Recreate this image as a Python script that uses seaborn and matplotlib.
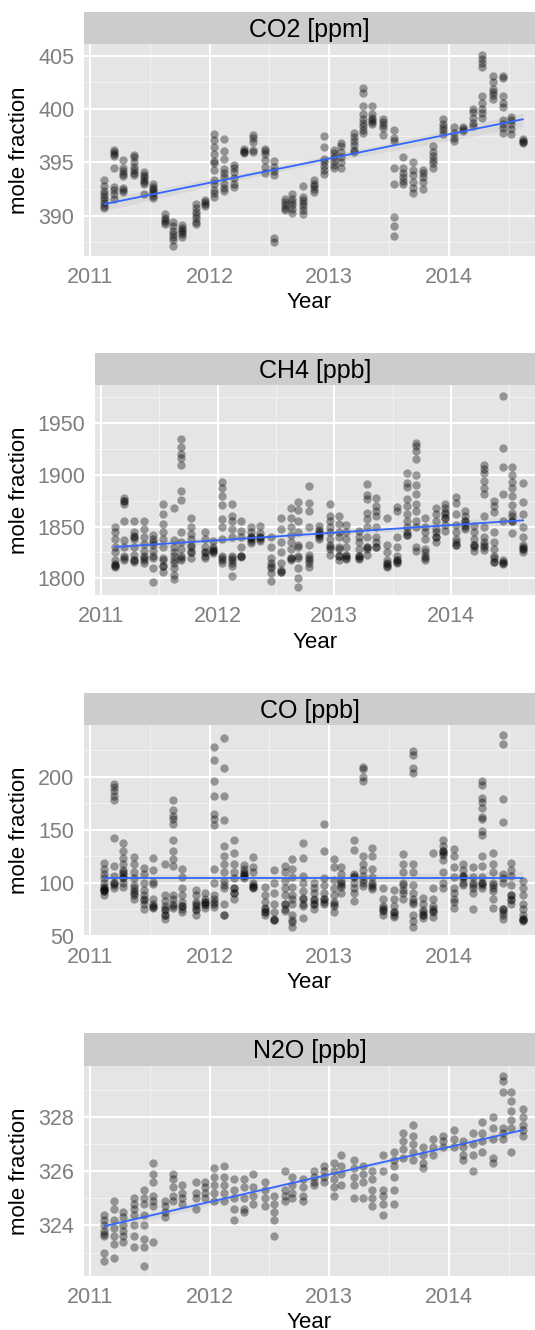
import matplotlib
matplotlib.use("Agg")
import matplotlib.pyplot as plt
import matplotlib.transforms as mtransforms
import numpy as np
import pandas as pd
import seaborn as sns

# ---------------- data ----------------
dates = [2011.12, 2011.20, 2011.28, 2011.37, 2011.45, 2011.53, 2011.63, 2011.69, 2011.77,
         2011.89, 2011.96, 2012.04, 2012.12, 2012.20, 2012.29, 2012.36, 2012.46, 2012.54,
         2012.63, 2012.69, 2012.78, 2012.87, 2012.96, 2013.04, 2013.10, 2013.21, 2013.28,
         2013.36, 2013.45, 2013.54, 2013.62, 2013.70, 2013.78, 2013.87, 2013.95, 2014.04,
         2014.12, 2014.20, 2014.28, 2014.37, 2014.45, 2014.52, 2014.62]

co2 = [
    [393.4, 392.8, 392.3, 392.0, 391.8, 391.5, 391.2, 390.9, 390.7],
    [396.2, 396.0, 395.8, 395.6, 394.5, 392.7, 392.4, 392.0, 391.6],
    [395.2, 394.5, 394.2, 393.9, 393.7, 392.6, 392.4, 392.2],
    [395.7, 395.5, 395.0, 394.6, 394.3, 394.0, 393.8],
    [394.1, 393.8, 393.6, 393.4, 393.2, 393.0, 392.0],
    [393.0, 392.7, 392.5, 392.3, 392.1, 391.9, 391.7],
    [390.2, 389.8, 389.6, 389.4, 389.2],
    [389.4, 389.0, 388.6, 388.3, 388.0, 387.7, 387.2],
    [389.1, 388.9, 388.7, 388.5, 388.3, 388.0],
    [391.1, 390.7, 390.4, 390.1, 389.8, 389.4, 389.2],
    [391.5, 391.3, 391.1, 390.9],
    [397.7, 397.1, 396.4, 395.8, 395.1, 394.9, 394.3, 393.4, 393.0, 392.4, 392.1, 391.8],
    [397.2, 396.1, 395.3, 394.4, 394.0, 393.6, 393.0, 392.6, 392.3],
    [394.8, 394.5, 394.1, 393.5, 393.0, 392.7],
    [396.3, 396.1, 396.0, 395.9],
    [397.6, 397.3, 396.9, 396.2, 396.0],
    [396.3, 396.1, 395.8, 395.2, 394.6, 394.0],
    [395.1, 394.6, 394.2, 393.8, 387.9, 387.5],
    [391.6, 391.3, 391.0, 390.7, 390.5],
    [392.0, 391.6, 391.3, 391.0, 390.6, 390.3],
    [392.8, 391.8, 391.5, 391.2, 390.9, 390.5, 390.2],
    [393.4, 393.0, 392.8, 392.5, 392.2],
    [397.5, 396.4, 395.3, 395.0, 394.7, 394.3, 393.9],
    [396.2, 395.9, 395.5, 395.1, 394.8, 394.5],
    [396.8, 396.5, 396.0, 395.5, 395.0, 394.5],
    [397.8, 397.4, 397.0, 396.6, 396.2, 396.0],
    [402.0, 401.5, 400.3, 399.5, 399.1, 398.7, 398.4, 398.0, 397.8],
    [400.3, 399.5, 399.2, 399.0, 398.8, 398.6],
    [399.1, 398.8, 398.5, 398.2, 397.6],
    [398.0, 397.3, 397.0, 394.5, 393.0, 389.9, 389.0, 388.1],
    [395.5, 394.5, 394.0, 393.6, 393.3, 393.0],
    [395.0, 394.3, 393.8, 393.2, 392.6, 392.1],
    [394.3, 394.0, 393.6, 393.2, 392.5],
    [396.5, 396.0, 395.6, 395.2, 394.9, 394.5],
    [399.1, 398.6, 398.3, 398.0, 397.7],
    [398.3, 397.8, 397.3, 397.0],
    [398.3, 398.1, 397.9],
    [400.0, 399.7, 399.2, 398.7, 398.4],
    [405.1, 404.7, 404.3, 403.9, 401.2, 400.6, 400.0, 399.6, 399.2],
    [403.1, 402.5, 401.9, 401.6, 401.3, 400.9],
    [403.1, 402.9, 401.2, 400.6, 400.2, 399.0, 398.6, 398.2, 397.8],
    [399.3, 399.0, 398.6, 398.1, 397.7],
    [397.2, 397.0, 396.9, 396.8],
]

ch4 = [
    [1850, 1845, 1838, 1830, 1825, 1818, 1814, 1813, 1812, 1811],
    [1878, 1875, 1875, 1872, 1855, 1837, 1830, 1822, 1820, 1818],
    [1855, 1845, 1841, 1840, 1838, 1830, 1823, 1818, 1818, 1816],
    [1855, 1848, 1840, 1833, 1826, 1822, 1820, 1818, 1815],
    [1842, 1838, 1835, 1832, 1826, 1822, 1820, 1810, 1796],
    [1872, 1862, 1853, 1845, 1838, 1830, 1820, 1818, 1812, 1812, 1806],
    [1868, 1837, 1830, 1825, 1822, 1818, 1815, 1810, 1803, 1799],
    [1935, 1927, 1920, 1916, 1910, 1884, 1876, 1845, 1835, 1828, 1822, 1820, 1818],
    [1858, 1850, 1843, 1838, 1832, 1830, 1825, 1825, 1820],
    [1845, 1838, 1830, 1825, 1825, 1822, 1820],
    [1836, 1830, 1828, 1826, 1826, 1824],
    [1893, 1887, 1880, 1871, 1857, 1850, 1838, 1822, 1820, 1818, 1815],
    [1872, 1860, 1855, 1848, 1840, 1822, 1820, 1818, 1815, 1812, 1802],
    [1855, 1846, 1840, 1830, 1822, 1822, 1821],
    [1850, 1845, 1840, 1840, 1838, 1836, 1834],
    [1851, 1844, 1840, 1840, 1838, 1836],
    [1840, 1830, 1820, 1815, 1812, 1810, 1805, 1797],
    [1858, 1848, 1835, 1825, 1815, 1808, 1806, 1806],
    [1868, 1858, 1850, 1842, 1835, 1828, 1820, 1820, 1818],
    [1874, 1866, 1855, 1845, 1832, 1830, 1822, 1820, 1810, 1800, 1792],
    [1889, 1873, 1865, 1850, 1832, 1823, 1820, 1818, 1815, 1811],
    [1851, 1847, 1845, 1843, 1842, 1840, 1838],
    [1872, 1860, 1855, 1850, 1845, 1838, 1832, 1830, 1828, 1823],
    [1860, 1853, 1845, 1840, 1830, 1828, 1822, 1822, 1818],
    [1852, 1845, 1838, 1830, 1823, 1822, 1820, 1819],
    [1846, 1840, 1835, 1828, 1822, 1822, 1820, 1819],
    [1891, 1881, 1877, 1863, 1857, 1850, 1840, 1830, 1830, 1828, 1823],
    [1878, 1870, 1865, 1860, 1850, 1840, 1835, 1830, 1830],
    [1858, 1832, 1825, 1818, 1815, 1814, 1812, 1811],
    [1869, 1865, 1840, 1830, 1822, 1818, 1818, 1816, 1815],
    [1902, 1892, 1888, 1877, 1870, 1862, 1855, 1850, 1845, 1842, 1842],
    [1931, 1928, 1923, 1915, 1900, 1890, 1882, 1872, 1865, 1855, 1850, 1830, 1826],
    [1858, 1850, 1845, 1838, 1828, 1825, 1822, 1820, 1818],
    [1868, 1862, 1855, 1848, 1845, 1840, 1840, 1835],
    [1872, 1868, 1864, 1862, 1858, 1858, 1852, 1846],
    [1879, 1873, 1862, 1852, 1845, 1838, 1835, 1832, 1832],
    [1865, 1860, 1855, 1855, 1852, 1850, 1848],
    [1851, 1845, 1838, 1832, 1832, 1830, 1826],
    [1910, 1906, 1902, 1894, 1887, 1882, 1860, 1850, 1840, 1835, 1832, 1830, 1827],
    [1875, 1870, 1864, 1845, 1835, 1828, 1822, 1820, 1816, 1816],
    [1976, 1926, 1908, 1882, 1855, 1818, 1816, 1815, 1814],
    [1908, 1900, 1893, 1887, 1880, 1871, 1863, 1860, 1855, 1855, 1844],
    [1892, 1874, 1862, 1850, 1840, 1832, 1830, 1828, 1828, 1825],
]

co = [
    [119, 113, 108, 104, 100, 96, 95, 94, 93, 92, 92, 88],
    [193, 190, 186, 182, 178, 142, 116, 106, 100, 100, 98, 95],
    [137, 130, 123, 118, 112, 110, 108, 105, 104, 100, 96],
    [124, 118, 110, 104, 98, 95, 92, 90, 88, 85],
    [114, 108, 100, 93, 88, 85, 84, 80, 75],
    [123, 112, 101, 99, 85, 80, 78, 77, 76],
    [118, 88, 83, 78, 75, 74, 70, 70, 66],
    [178, 168, 163, 160, 155, 140, 130, 122, 116, 88, 85, 80, 78, 76],
    [113, 105, 95, 88, 82, 78, 78, 75, 72],
    [93, 88, 82, 80, 78, 75, 74, 70],
    [90, 85, 82, 82, 80, 79, 76],
    [228, 216, 196, 182, 165, 160, 154, 113, 100, 88, 85, 82, 80, 77],
    [236, 208, 182, 159, 135, 125, 118, 110, 102, 98, 95, 80, 70, 70],
    [140, 128, 118, 110, 104, 95, 95, 90, 90, 85],
    [117, 113, 110, 108, 107, 106, 104],
    [124, 115, 110, 100, 98, 96, 96, 95],
    [96, 88, 82, 76, 75, 72, 72, 70],
    [112, 100, 90, 80, 72, 66, 65, 65],
    [116, 110, 102, 95, 88, 80, 80, 75, 73],
    [122, 113, 105, 96, 88, 85, 80, 70, 65, 63, 58],
    [137, 123, 106, 100, 92, 86, 85, 80, 78, 67],
    [100, 95, 90, 85, 84, 80, 80, 75],
    [155, 130, 104, 98, 90, 85, 85, 82, 80],
    [122, 115, 103, 95, 88, 82, 80, 78, 72],
    [115, 108, 102, 100, 98, 96, 90],
    [140, 131, 108, 106, 105, 100, 95, 90, 83],
    [209, 207, 200, 196, 125, 118, 112, 106, 103, 100, 97],
    [133, 125, 113, 105, 100, 98, 96, 94],
    [95, 85, 78, 76, 74, 73, 70],
    [93, 85, 78, 72, 72, 70, 68],
    [127, 118, 110, 100, 98, 93, 90, 85],
    [224, 220, 208, 203, 118, 110, 98, 90, 85, 82, 80, 70, 64, 58],
    [86, 80, 74, 72, 70, 70, 67],
    [128, 95, 85, 78, 75, 73, 72, 68],
    [140, 135, 130, 130, 128, 126, 121, 110, 100, 95],
    [132, 125, 115, 105, 95, 90, 85, 82, 76],
    [118, 112, 106, 106, 104, 100, 98],
    [115, 105, 100, 98, 95, 90, 75],
    [196, 192, 180, 176, 170, 162, 160, 149, 145, 125, 116, 105, 100, 100, 98, 95],
    [128, 118, 110, 100, 98, 95, 92, 85, 76],
    [239, 231, 179, 157, 108, 104, 100, 75, 75, 72, 70, 66],
    [119, 112, 106, 98, 88, 88, 85, 84, 80],
    [102, 95, 88, 80, 75, 70, 66, 66, 65, 64],
]

n2o = [
    [324.4, 324.2, 324.0, 323.8, 323.7, 323.6, 323.0, 322.7],
    [324.9, 324.6, 324.2, 323.9, 323.6, 323.3, 322.8],
    [324.5, 324.3, 324.0, 323.8, 323.6, 323.4],
    [325.0, 324.8, 324.6, 324.4, 324.0, 323.6, 323.2],
    [325.3, 325.0, 324.8, 324.4, 324.0, 323.5, 323.2, 322.5],
    [326.3, 325.9, 325.6, 325.1, 324.9, 324.7, 323.4],
    [324.9, 324.7, 324.5, 324.3],
    [325.9, 325.7, 325.4, 325.1, 324.9],
    [325.5, 325.2, 325.0, 324.8],
    [325.6, 325.2, 325.0, 324.6],
    [325.6, 325.4, 325.2, 325.0],
    [326.1, 325.8, 325.5, 325.2, 324.9],
    [326.2, 325.8, 325.5, 325.2, 324.9],
    [325.7, 325.3, 325.0, 324.6, 324.2],
    [325.7, 325.4, 325.0, 324.6, 324.5],
    [325.9, 325.4, 325.1, 324.8],
    [325.6, 325.3, 325.0, 324.7],
    [325.1, 324.8, 324.5, 324.2, 323.6],
    [326.0, 325.3, 325.1, 324.9],
    [325.8, 325.5, 325.2, 325.0],
    [325.7, 325.4, 325.1, 324.9],
    [326.0, 325.8, 325.6, 325.5],
    [326.2, 326.0, 325.8, 325.6],
    [326.3, 326.0, 325.7, 325.4, 325.1],
    [326.6, 326.2, 325.9, 325.5],
    [326.4, 326.1, 325.8, 325.5, 325.0],
    [326.2, 325.9, 325.6, 325.0],
    [326.0, 325.7, 325.3, 325.0, 324.7],
    [326.6, 326.0, 325.3, 325.1, 324.8, 324.4],
    [326.7, 326.4, 326.2, 325.8, 325.3, 324.8],
    [327.4, 327.1, 326.8, 326.5],
    [327.7, 327.3, 327.0, 326.7, 326.4],
    [326.9, 326.6, 326.3, 326.1],
    [327.2, 326.9, 326.6],
    [327.3, 327.1, 326.9],
    [327.5, 327.2, 326.9],
    [327.1, 326.9, 326.6, 326.4],
    [327.4, 327.0, 326.6, 326.0],
    [327.8, 327.4, 327.1, 326.7],
    [328.0, 327.6, 327.2, 326.5, 326.3],
    [329.5, 329.3, 328.9, 327.6, 327.4, 327.2],
    [328.9, 328.6, 328.2, 327.9, 327.6, 326.7],
    [328.3, 328.0, 327.7, 327.5, 327.3],
]

titles = ["CO2 [ppm]", "CH4 [ppb]", "CO [ppb]", "N2O [ppb]"]
x_ticks = [2011, 2012, 2013, 2014]
x_tick_labels = ["2011", "2012", "2013", "2014"]
y_ticks = [[390, 395, 400, 405], [1800, 1850, 1900, 1950], [50, 100, 150, 200], [324, 326, 328]]

# ---------------- style ----------------
sns.set_style("white")
plt.rcParams["font.family"] = ["Liberation Sans", "DejaVu Sans"]

W, H = 535, 1330
fig = plt.figure(figsize=(W / 100, H / 100), dpi=100)


def px_axes(left, top, right, bottom):
    return fig.add_axes([left / W, 1 - bottom / H, (right - left) / W, (bottom - top) / H])


layout = [
    dict(left=84, strip_top=12, top=44, bottom=256, ylim=(386.23, 406.1), yminor=[387.5, 392.5, 397.5, 402.5], xlab=46),
    dict(left=95, strip_top=353, top=385, bottom=595, ylim=(1783.8, 1987.1), yminor=[1825, 1875, 1925, 1975], xlab=48),
    dict(left=84, strip_top=693, top=725, bottom=936, ylim=(49.8, 248.5), yminor=[75, 125, 175, 225], xlab=46),
    dict(left=84, strip_top=1033, top=1066, bottom=1276, ylim=(322.14, 329.87), yminor=[323, 325, 327, 329], xlab=46),
]

XLIM = (2010.95, 2014.72)
TICK_GREY = "#7f7f7f"

for vals, title, yt, lay in zip([co2, ch4, co, n2o], titles, y_ticks, layout):
    rows = [(d, v) for d, col in zip(dates, vals) for v in col]
    df = pd.DataFrame(rows, columns=["Year", "value"])

    ax = px_axes(lay["left"], lay["top"], W, lay["bottom"])
    ax.set_facecolor("#e5e5e5")
    ax.set_xlim(*XLIM)
    ax.set_ylim(*lay["ylim"])

    # grid
    for xm in [2011.5, 2012.5, 2013.5, 2014.5]:
        ax.axvline(xm, color="#f2f2f2", lw=0.8, zorder=0)
    for ym in lay["yminor"]:
        ax.axhline(ym, color="#f2f2f2", lw=0.8, zorder=0)
    for xM in x_ticks:
        ax.axvline(xM, color="white", lw=1.5, zorder=0.5)
    for yM in yt:
        ax.axhline(yM, color="white", lw=1.5, zorder=0.5)

    sns.scatterplot(data=df, x="Year", y="value", ax=ax, color="black", alpha=0.36,
                    s=36, linewidth=0, zorder=2)
    sns.regplot(data=df, x="Year", y="value", ax=ax, scatter=False, ci=95, n_boot=300,
                seed=1, color="#999999", line_kws=dict(lw=0))
    sns.regplot(data=df, x="Year", y="value", ax=ax, scatter=False, ci=None,
                color="#3366FF", line_kws=dict(lw=1.3, zorder=4))

    for s in ax.spines.values():
        s.set_visible(False)
    ax.set_xticks(x_ticks)
    ax.set_xticklabels(x_tick_labels)
    ax.set_yticks(yt)
    ax.set_yticklabels([str(v) for v in yt])
    ax.tick_params(axis="both", length=5, width=1, color=TICK_GREY, labelcolor=TICK_GREY,
                   labelsize=15.5)
    ax.tick_params(axis="x", pad=3)
    ax.tick_params(axis="y", pad=2)

    ax.set_xlabel("Year", fontsize=16, color="black", va="center")
    ax.xaxis.set_label_coords(
        0.5, 1 - (lay["bottom"] + lay["xlab"]) / H,
        transform=mtransforms.blended_transform_factory(ax.transAxes, fig.transFigure))
    ax.set_ylabel("mole fraction", fontsize=16, color="black", va="center")
    ax.yaxis.set_label_coords(
        19.5 / W, 0.5,
        transform=mtransforms.blended_transform_factory(fig.transFigure, ax.transAxes))

    # strip
    sax = px_axes(lay["left"], lay["strip_top"], W, lay["top"])
    sax.set_facecolor("#cccccc")
    sax.set_xticks([])
    sax.set_yticks([])
    for s in sax.spines.values():
        s.set_visible(False)
    sax.text(0.5, 0.45, title, transform=sax.transAxes, ha="center", va="center",
             fontsize=18, color="black")

fig.savefig("out.png", dpi=100, facecolor="white")
